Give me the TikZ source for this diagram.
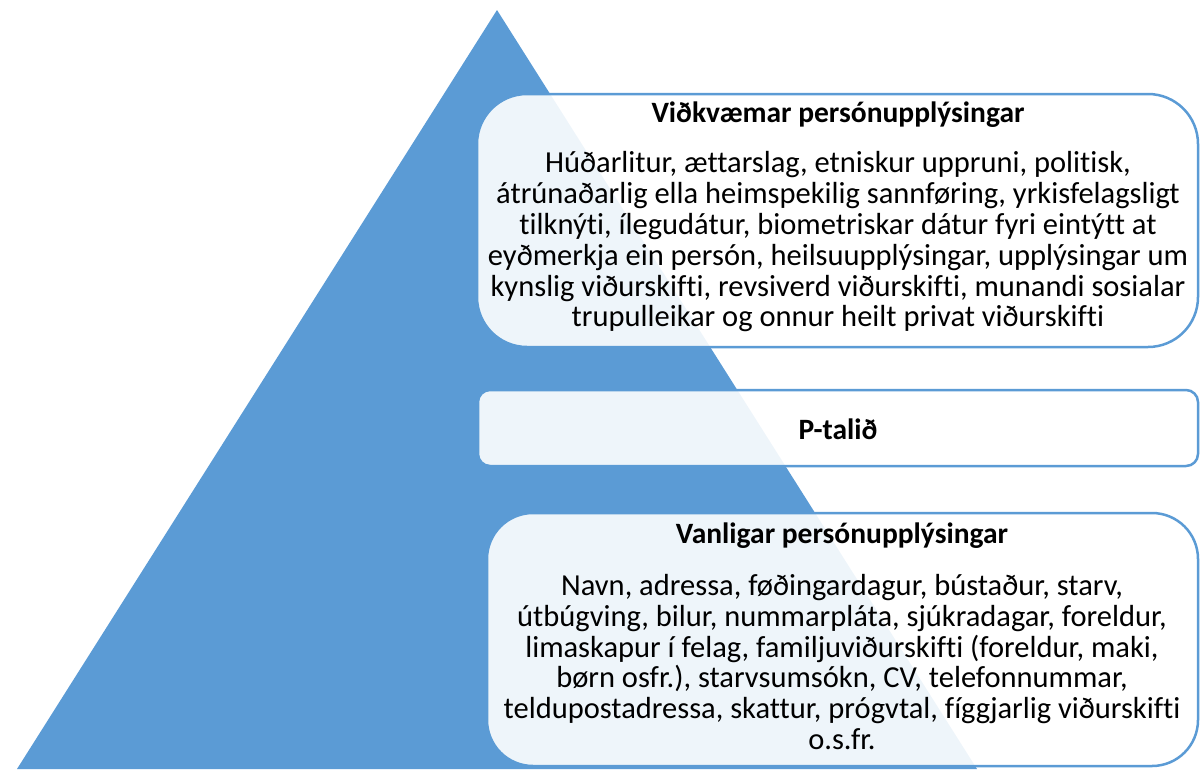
\documentclass[tikz,border=0pt]{standalone}
\usepackage{fontspec}
\setmainfont[Ligatures=NoCommon]{Carlito}
\usetikzlibrary{positioning}

\definecolor{pyrblue}{HTML}{5B9BD5}

\tikzset{
  infobox/.style={draw=pyrblue, line width=2.5pt, fill=white, fill opacity=0.9},
  headtext/.style={font=\fontsize{29.5}{30}\selectfont\bfseries, inner sep=0pt},
  bodytext/.style={font=\fontsize{30.5}{30.8}\selectfont, align=center, inner sep=0pt}
}

\begin{document}
\begin{tikzpicture}[x=1pt, y=-1pt]
  \useasboundingbox (0,0) rectangle (1200,769);

  % pyramid
  \coordinate (top) at (497,10);
  \coordinate (bl) at (17,769);
  \coordinate (br) at (977,769);
  \fill[pyrblue] (top) -- (bl) -- (br) -- cycle;

  % boxes
  \draw[infobox, rounded corners=50pt] (477,94) rectangle (1198,347);
  \draw[infobox, rounded corners=12pt] (478,390) rectangle (1198,466);
  \draw[infobox, rounded corners=46pt] (487,513) rectangle (1198,766);

  % texts
  \node[headtext] (senshead) at (838,115) {Viðkvæmar persónupplýsingar};
  \node[bodytext] (sensbody) at (838,242) {Húðarlitur, ættarslag, etniskur uppruni, politisk,\\
    átrúnaðarlig ella heimspekilig sannføring, yrkisfelagsligt\\
    tilknýti, ílegudátur, biometriskar dátur fyri eintýtt at\\
    eyðmerkja ein persón, heilsuupplýsingar, upplýsingar um\\
    kynslig viðurskifti, revsiverd viðurskifti, munandi sosialar\\
    trupulleikar og onnur heilt privat viðurskifti};
  \node[headtext] (ptal) at (838,429) {P-talið};
  \node[headtext] (normhead) at (842,536) {Vanligar persónupplýsingar};
  \node[bodytext] (normbody) at (842,662) {Navn, adressa, føðingardagur, bústaður, starv,\\
    útbúgving, bilur, nummarpláta, sjúkradagar, foreldur,\\
    limaskapur í felag, familjuviðurskifti (foreldur, maki,\\
    børn osfr.), starvsumsókn, CV, telefonnummar,\\
    teldupostadressa, skattur, prógvtal, fíggjarlig viðurskifti\\
    o.s.fr.};
\end{tikzpicture}
\end{document}
